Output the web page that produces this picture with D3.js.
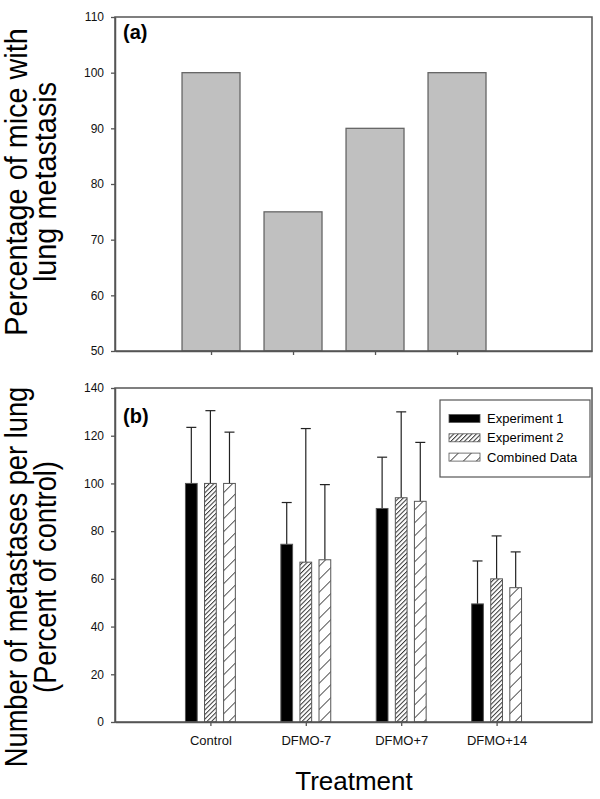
<!DOCTYPE html>
<html><head><meta charset="utf-8">
<script src="https://cdn.jsdelivr.net/npm/d3@7"></script>
<style>body{margin:0;background:#fff}svg{display:block;font-family:Arial,"Liberation Sans",sans-serif}</style>
</head><body><svg id="c" width="600" height="799"></svg>
<script>
// ---- data ----
const categories = ["Control", "DFMO-7", "DFMO+7", "DFMO+14"];
const pctMice = [100, 75, 90, 100];
const seriesNames = ["Experiment 1", "Experiment 2", "Combined Data"];
const exp1 = [100, 74.5, 89.5, 49.5];
const exp1Err = [123.5, 92, 111, 67.5];
const exp2 = [100, 67, 94, 60];
const exp2Err = [130.5, 123, 130, 78];
const comb = [100, 68, 92.5, 56.3];
const combErr = [121.5, 99.5, 117.2, 71.3];
const topTicks = [50, 60, 70, 80, 90, 100, 110];
const botTicks = [0, 20, 40, 60, 80, 100, 120, 140];

const svg = d3.select("#c");
const axisCol = "#555";
const defs = svg.append("defs");
defs.append("pattern").attr("id","dense").attr("patternUnits","userSpaceOnUse")
  .attr("width",3.2).attr("height",3.2).attr("patternTransform","rotate(45)")
  .call(p=>{p.append("rect").attr("width",3.2).attr("height",3.2).attr("fill","#fff");
            p.append("line").attr("x1",0.5).attr("y1",0).attr("x2",0.5).attr("y2",3.2).attr("stroke","#333").attr("stroke-width",1);});
defs.append("pattern").attr("id","sparse").attr("patternUnits","userSpaceOnUse")
  .attr("width",9.2).attr("height",9.2).attr("patternTransform","rotate(45)")
  .call(p=>{p.append("rect").attr("width",9.2).attr("height",9.2).attr("fill","#fff");
            p.append("line").attr("x1",0.5).attr("y1",0).attr("x2",0.5).attr("y2",9.2).attr("stroke","#444").attr("stroke-width",0.9);});

const L = 115, R = 592;

// ---- panel (a) ----
const xt = d3.scaleLinear().domain([-0.171, 5.646]).range([L, R]);
const yt = d3.scaleLinear().domain([50, 110]).range([351, 17]);
const bwT = 0.707;
const gA = svg.append("g");
gA.selectAll("rect.bar").data(pctMice).join("rect").attr("class","bar")
  .attr("x",(d,i)=>xt(i+1-bwT/2)).attr("width",xt(bwT)-xt(0))
  .attr("y",d=>yt(d)).attr("height",d=>yt(50)-yt(d))
  .attr("fill","#c0c0c0").attr("stroke","#666").attr("stroke-width",1.3);
gA.append("rect").attr("x",L).attr("y",yt(110)).attr("width",R-L).attr("height",yt(50)-yt(110))
  .attr("fill","none").attr("stroke",axisCol).attr("stroke-width",1.5);
gA.append("g").attr("class","yax").attr("transform",`translate(${L},0)`)
  .call(d3.axisLeft(yt).tickValues(topTicks).tickSize(4).tickPadding(7).tickSizeOuter(0));
gA.append("g").attr("transform",`translate(0,${yt(50)})`)
  .call(d3.axisBottom(xt).tickValues([1,2,3,4]).tickFormat("").tickSize(4).tickSizeOuter(0));
gA.append("text").attr("x",123).attr("y",39).attr("font-size",20).attr("font-weight","bold").text("(a)");

// ---- panel (b) ----
const xb = d3.scaleLinear().domain([0, 5]).range([L, R]);
const yb = d3.scaleLinear().domain([0, 140]).range([722, 388]);
const off = 0.2, bw = 0.123;
const series = [
  {name: seriesNames[0], v: exp1, e: exp1Err, fill: "#000"},
  {name: seriesNames[1], v: exp2, e: exp2Err, fill: "url(#dense)"},
  {name: seriesNames[2], v: comb, e: combErr, fill: "url(#sparse)"}
];
const gB = svg.append("g");
series.forEach((s, k) => {
  const cx = i => i + 1 + (k - 1) * off;
  gB.selectAll(null).data(s.e).join("line")
    .attr("x1",(d,i)=>xb(cx(i))).attr("x2",(d,i)=>xb(cx(i)))
    .attr("y1",(d,i)=>yb(s.v[i])).attr("y2",d=>yb(d))
    .attr("stroke","#222").attr("stroke-width",1.2);
  gB.selectAll(null).data(s.e).join("line")
    .attr("x1",(d,i)=>xb(cx(i))-5).attr("x2",(d,i)=>xb(cx(i))+5)
    .attr("y1",d=>yb(d)).attr("y2",d=>yb(d))
    .attr("stroke","#222").attr("stroke-width",1.2);
  gB.selectAll(null).data(s.v).join("rect")
    .attr("x",(d,i)=>xb(cx(i)-bw/2)).attr("width",xb(bw)-xb(0))
    .attr("y",d=>yb(d)).attr("height",d=>yb(0)-yb(d))
    .attr("fill",s.fill).attr("stroke","#555").attr("stroke-width",1);
});
gB.append("rect").attr("x",L).attr("y",yb(140)).attr("width",R-L).attr("height",yb(0)-yb(140))
  .attr("fill","none").attr("stroke",axisCol).attr("stroke-width",1.5);
gB.append("g").attr("class","yax").attr("transform",`translate(${L},0)`)
  .call(d3.axisLeft(yb).tickValues(botTicks).tickSize(4).tickPadding(7).tickSizeOuter(0));
gB.append("g").attr("class","xax").attr("transform",`translate(0,${yb(0)})`)
  .call(d3.axisBottom(xb).tickValues([1,2,3,4]).tickFormat((d,i)=>categories[i]).tickSize(4).tickPadding(10).tickSizeOuter(0));
gB.append("text").attr("x",123).attr("y",423).attr("font-size",20).attr("font-weight","bold").text("(b)");

// legend
const lg = svg.append("g");
lg.append("rect").attr("x",440).attr("y",400).attr("width",150).attr("height",77)
  .attr("fill","#fff").attr("stroke",axisCol).attr("stroke-width",1.2);
series.forEach((s,k)=>{
  const cy = 418.5 + k*19.3;
  lg.append("rect").attr("x",449).attr("y",cy-4).attr("width",31).attr("height",8)
    .attr("fill",s.fill).attr("stroke","#555").attr("stroke-width",0.8);
  lg.append("text").attr("x",487).attr("y",cy+4.5).attr("font-size",13).text(s.name);
});

// axis styling
svg.selectAll(".domain").attr("stroke",axisCol).attr("stroke-width",1.5);
svg.selectAll(".tick line").attr("stroke",axisCol).attr("stroke-width",1.3);
svg.selectAll(".tick text").attr("fill","#111").attr("font-family","Arial,'Liberation Sans',sans-serif");
svg.selectAll(".yax .tick text").attr("font-size",12);
svg.selectAll(".xax .tick text").attr("font-size",13);

// titles
function vtitle(txt, x, y, sc){
  svg.append("text").attr("transform",`translate(${x},${y}) rotate(-90) scale(${sc},1)`)
    .attr("text-anchor","middle").attr("font-size",31).attr("fill","#000").text(txt);
}
vtitle("Percentage of mice with", 27, 182, 0.93);
vtitle("lung metastasis", 56, 182, 0.93);
vtitle("Number of metastases per lung", 27, 577, 0.88);
vtitle("(Percent of control)", 56, 577, 0.88);
svg.append("text").attr("x",354).attr("y",790).attr("text-anchor","middle").attr("font-size",26).text("Treatment");
</script></body></html>
